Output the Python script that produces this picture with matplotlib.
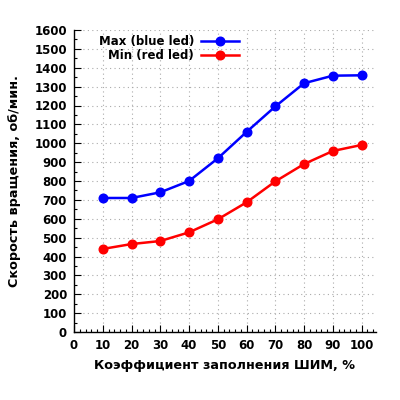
import matplotlib
matplotlib.use("Agg")
import matplotlib.pyplot as plt
from matplotlib.ticker import MultipleLocator

pwm = [10, 20, 30, 40, 50, 60, 70, 80, 90, 100]
max_rpm = [710, 710, 740, 800, 920, 1060, 1195, 1318, 1358, 1360]
min_rpm = [440, 466, 482, 528, 597, 687, 798, 890, 959, 991]

plt.rcParams['font.family'] = ['DejaVu Sans']
plt.rcParams['font.weight'] = 'bold'

fig = plt.figure(figsize=(4, 4), dpi=100)
ax = fig.add_axes([0.185, 0.17, 0.755, 0.755])

ax.plot(pwm, max_rpm, color='#0000ff', lw=1.8, marker='o', ms=6.2, label='Max (blue led)')
ax.plot(pwm, min_rpm, color='#ff0000', lw=1.8, marker='o', ms=6.2, label='Min (red led)')

ax.set_xlim(0, 105)
ax.set_ylim(0, 1600)
ax.xaxis.set_major_locator(MultipleLocator(10))
ax.xaxis.set_minor_locator(MultipleLocator(2))
ax.yaxis.set_major_locator(MultipleLocator(100))
ax.yaxis.set_minor_locator(MultipleLocator(50))
ax.set_xticks(range(0, 101, 10))

for s in ['top', 'right']:
    ax.spines[s].set_visible(False)
for s in ['left', 'bottom']:
    ax.spines[s].set_linewidth(1.0)

ax.tick_params(which='major', direction='in', length=5, width=0.8, labelsize=8.5, pad=5)
ax.tick_params(which='minor', direction='in', length=2.5, width=0.8)
for lab in ax.get_xticklabels() + ax.get_yticklabels():
    lab.set_fontweight('bold')

ax.grid(True, which='major', linestyle=(0, (1, 3)), color='#aaaaaa', lw=0.8)

ax.set_xlabel('Коэффициент заполнения ШИМ, %', fontsize=9.2, fontweight='bold', labelpad=5)
ax.set_ylabel('Скорость вращения, об/мин.', fontsize=9.2, fontweight='bold', labelpad=10)

leg = ax.legend(loc='upper right', bbox_to_anchor=(0.562, 0.999), frameon=False, markerfirst=False,
                prop={'weight': 'bold', 'size': 8.5}, handlelength=3.2, handletextpad=0.6,
                labelspacing=0.12, borderaxespad=0.0)
for t in leg.get_texts():
    t.set_ha('right')
leg._legend_box.align = 'right'

fig.savefig('out.png', dpi=100)
